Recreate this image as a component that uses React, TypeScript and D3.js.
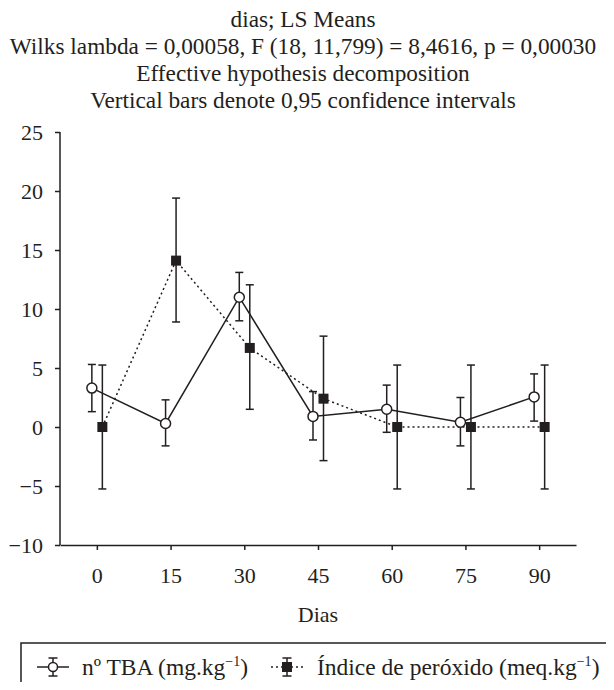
import { useEffect, useRef } from "react";
import * as d3 from "d3";

// days on the x axis
const dias = ["0", "15", "30", "45", "60", "75", "90"];

// nº TBA (mg.kg-1): mean, lower, upper
const tbaMean = [3.3, 0.3, 11.0, 0.9, 1.5, 0.4, 2.55];
const tbaLow = [1.3, -1.6, 9.0, -1.1, -0.45, -1.6, 0.5];
const tbaHigh = [5.3, 2.3, 13.1, 3.0, 3.55, 2.5, 4.5];

// Índice de peróxido (meq.kg-1)
const perMean = [0, 14.1, 6.7, 2.4, 0, 0, 0];
const perLow = [-5.25, 8.9, 1.5, -2.85, -5.25, -5.25, -5.25];
const perHigh = [5.25, 19.4, 12.05, 7.7, 5.25, 5.25, 5.25];

const yTicks = [-10, -5, 0, 5, 10, 15, 20, 25];

const titleLines = [
  "dias; LS Means",
  "Wilks lambda = 0,00058, F (18, 11,799) = 8,4616, p = 0,00030",
  "Effective hypothesis decomposition",
  "Vertical bars denote 0,95 confidence intervals",
];

const INK = "#231f20";

export default function App() {
  const ref = useRef<SVGSVGElement>(null);

  useEffect(() => {
    const svg = d3.select(ref.current);
    svg.selectAll("*").remove();

    const W = 614, H = 690;
    const margin = { top: 132, left: 60, right: 38, bottom: 145 };

    const x = d3.scalePoint<string>()
      .domain(dias)
      .range([margin.left, W - margin.right])
      .padding(0.5);
    const y = d3.scaleLinear().domain([-10, 25]).range([H - margin.bottom, margin.top]);

    const g = svg.append("g");

    // title
    g.selectAll("text.title")
      .data(titleLines)
      .join("text")
      .attr("class", "title")
      .attr("x", 303)
      .attr("y", (d, i) => 27 + i * 27)
      .attr("text-anchor", "middle")
      .attr("font-size", 23.3)
      .attr("fill", INK)
      .text(d => d);

    // axes
    const yAxis = g.append("g")
      .attr("transform", `translate(${margin.left},0)`)
      .call(d3.axisLeft(y).tickValues(yTicks).tickSize(5).tickPadding(12)
        .tickFormat(d => String(d).replace("-", "−")));
    const xAxis = g.append("g")
      .attr("transform", `translate(0,${y(-10)})`)
      .call(d3.axisBottom(x).tickSize(5).tickPadding(17).tickSizeOuter(0));
    [yAxis, xAxis].forEach(a => {
      a.attr("font-family", null).attr("font-size", 22);
      a.selectAll("path, line").attr("stroke", INK).attr("stroke-width", 1.5);
      a.selectAll("text").attr("fill", INK);
    });
    yAxis.select("path").attr("d", `M0,${y(-10)}V${y(25)}`);

    // x label
    g.append("text")
      .attr("x", (margin.left + W - margin.right) / 2)
      .attr("y", 622)
      .attr("text-anchor", "middle")
      .attr("font-size", 22)
      .attr("fill", INK)
      .text("Dias");

    const series = [
      { mean: perMean, low: perLow, high: perHigh, off: 5.5, dash: "2,3", marker: "square" },
      { mean: tbaMean, low: tbaLow, high: tbaHigh, off: -5, dash: null, marker: "circle" },
    ];

    series.forEach(s => {
      const px = (i: number) => (x(dias[i]) as number) + s.off;
      const line = d3.line<number>().x((d, i) => px(i)).y(d => y(d));
      g.append("path")
        .attr("d", line(s.mean))
        .attr("fill", "none")
        .attr("stroke", INK)
        .attr("stroke-width", 1.5)
        .attr("stroke-dasharray", s.dash);

      const eb = g.append("g").attr("stroke", INK).attr("stroke-width", 1.5);
      s.mean.forEach((m, i) => {
        const cx = px(i);
        eb.append("line").attr("x1", cx).attr("x2", cx).attr("y1", y(s.low[i])).attr("y2", y(s.high[i]));
        [s.low[i], s.high[i]].forEach(v => {
          eb.append("line").attr("x1", cx - 4).attr("x2", cx + 4).attr("y1", y(v)).attr("y2", y(v));
        });
      });

      s.mean.forEach((m, i) => {
        if (s.marker === "circle") {
          g.append("circle").attr("cx", px(i)).attr("cy", y(m)).attr("r", 5)
            .attr("fill", "#fff").attr("stroke", INK).attr("stroke-width", 1.5);
        } else {
          g.append("rect").attr("x", px(i) - 5).attr("y", y(m) - 5).attr("width", 10).attr("height", 10)
            .attr("fill", INK);
        }
      });
    });

    // legend
    const lg = g.append("g");
    lg.append("rect").attr("x", 21).attr("y", 643).attr("width", 610).attr("height", 60)
      .attr("fill", "none").attr("stroke", INK).attr("stroke-width", 1.5);
    const ly = 667;
    const symbol = (cx: number, half: number, dash: string | null, marker: string) => {
      lg.append("line").attr("x1", cx - half).attr("x2", cx + half).attr("y1", ly).attr("y2", ly)
        .attr("stroke", INK).attr("stroke-width", 1.5).attr("stroke-dasharray", dash);
      lg.append("line").attr("x1", cx).attr("x2", cx).attr("y1", ly - 9).attr("y2", ly + 9)
        .attr("stroke", INK).attr("stroke-width", 1.5);
      [ly - 9, ly + 9].forEach(v => lg.append("line").attr("x1", cx - 4.5).attr("x2", cx + 4.5).attr("y1", v).attr("y2", v)
        .attr("stroke", INK).attr("stroke-width", 1.5));
      if (marker === "circle") {
        lg.append("circle").attr("cx", cx).attr("cy", ly).attr("r", 4.5)
          .attr("fill", "#fff").attr("stroke", INK).attr("stroke-width", 1.5);
      } else {
        lg.append("rect").attr("x", cx - 5).attr("y", ly - 5).attr("width", 10).attr("height", 10).attr("fill", INK);
      }
    };
    symbol(53, 16, null, "circle");
    symbol(287, 16, "2,3", "square");

    const legendText = (tx: number, pre: string) => {
      const t = lg.append("text").attr("x", tx).attr("y", 675).attr("font-size", 23.5).attr("fill", INK);
      t.append("tspan").text(pre);
      t.append("tspan").attr("font-size", 14).attr("dy", -9).text("−1");
      t.append("tspan").attr("dy", 9).text(")");
      return t;
    };
    legendText(82, "nº TBA (mg.kg");
    legendText(317, "Índice de peróxido (meq.kg");
  }, []);

  return (
    <svg
      ref={ref}
      width={614}
      height={690}
      style={{ display: "block", margin: "-8px", fontFamily: "'Liberation Serif'" }}
    />
  );
}
